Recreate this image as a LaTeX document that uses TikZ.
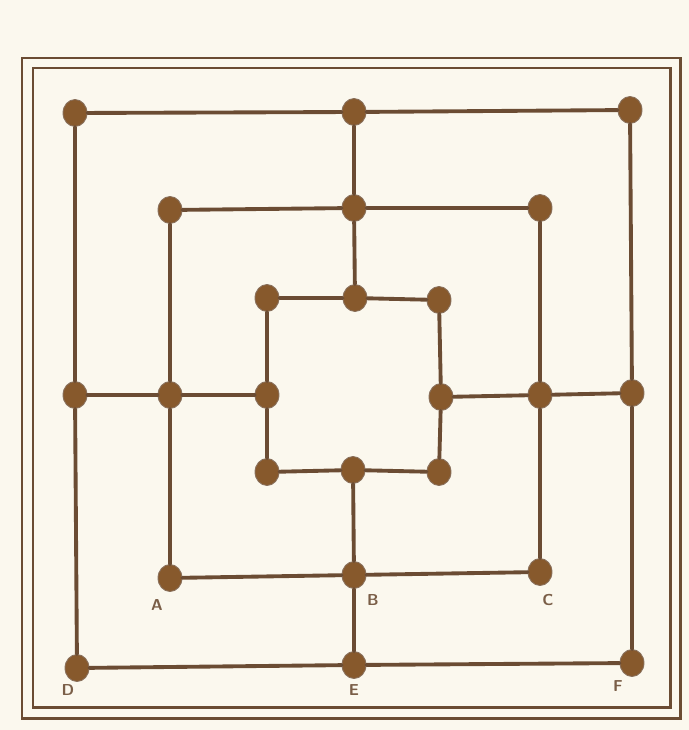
\documentclass[tikz,border=0pt]{standalone}
\usetikzlibrary{shapes.geometric}
\definecolor{paper}{HTML}{FBF8EE}
\definecolor{ink}{HTML}{6B4C33}
\definecolor{peg}{HTML}{87592C}
\begin{document}
\begin{tikzpicture}[
		x=0.02cm, y=-0.02cm,
		track/.style={ink, line width=2.2pt, line cap=round},
		frame/.style={ink, line width=1.7pt},
		spot/.style={ellipse, fill=peg, draw=ink!80, line width=0.5pt,
			minimum width=0.48cm, minimum height=0.54cm, inner sep=0pt},
		letter/.style={font=\sffamily\bfseries\small, text=ink!90},
	]

	% ---------- paper and double frame ----------
	\fill[paper] (0,0) rectangle (689,730);
	\useasboundingbox (0,0) rectangle (689,730);
	\draw[frame] (22,58) rectangle (680,718);
	\draw[frame] (33,68) rectangle (670,707);

	% ---------- outer square ----------
	\node[spot] (o1) at (75,113) {};
	\node[spot] (o2) at (354,112) {};
	\node[spot] (o3) at (630,110) {};
	\node[spot] (o4) at (75,395) {};
	\node[spot] (o5) at (632,393) {};
	\node[spot] (o6) at (77,668) {};
	\node[spot] (o7) at (354,665) {};
	\node[spot] (o8) at (632,663) {};

	% ---------- middle square ----------
	\node[spot] (m1) at (170,210) {};
	\node[spot] (m2) at (354,208) {};
	\node[spot] (m3) at (540,208) {};
	\node[spot] (m4) at (170,395) {};
	\node[spot] (m5) at (540,395) {};
	\node[spot] (m6) at (170,578) {};
	\node[spot] (m7) at (354,575) {};
	\node[spot] (m8) at (540,572) {};

	% ---------- inner square ----------
	\node[spot] (i1) at (267,298) {};
	\node[spot] (i2) at (355,298) {};
	\node[spot] (i3) at (439,300) {};
	\node[spot] (i4) at (267,395) {};
	\node[spot] (i5) at (441,397) {};
	\node[spot] (i6) at (267,472) {};
	\node[spot] (i7) at (353,470) {};
	\node[spot] (i8) at (439,472) {};

	% ---------- lines ----------
	\foreach \s in {o,m,i} {
		\draw[track] (\s1) -- (\s2) -- (\s3) -- (\s5) -- (\s8) -- (\s7) -- (\s6) -- (\s4) -- (\s1);
	}
	\draw[track] (o2) -- (m2) -- (i2);
	\draw[track] (o4) -- (m4) -- (i4);
	\draw[track] (i5) -- (m5) -- (o5);
	\draw[track] (i7) -- (m7) -- (o7);

	% ---------- letters ----------
	\node[letter] (lA) at (157,605) {A};
	\node[letter] (lB) at (373,600) {B};
	\node[letter] (lC) at (548,600) {C};
	\node[letter] (lD) at (68,690) {D};
	\node[letter] (lE) at (354,690) {E};
	\node[letter] (lF) at (618,686) {F};

\end{tikzpicture}
\end{document}
